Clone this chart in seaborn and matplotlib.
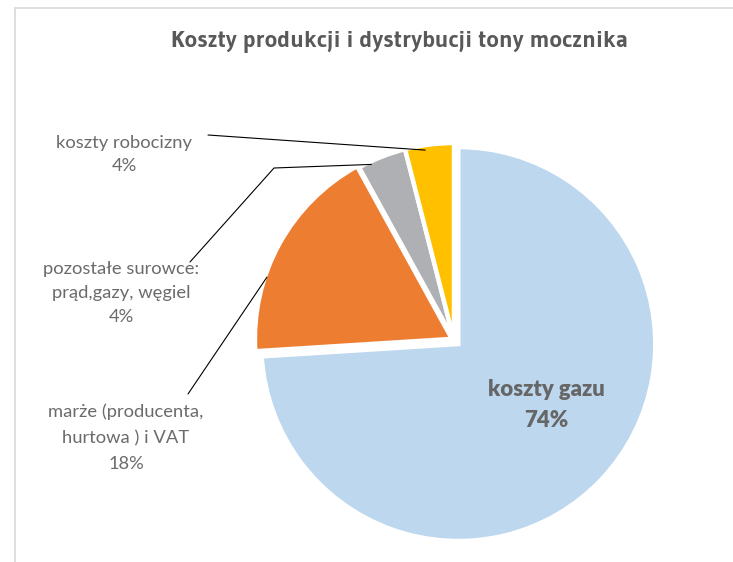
import numpy as np
import matplotlib
matplotlib.use("Agg")
import matplotlib.pyplot as plt
from matplotlib import font_manager as fm
from matplotlib.font_manager import FontProperties
from matplotlib.ft2font import FT2Font
import seaborn as sns

# ---- data ----
categories = ["koszty gazu", "marże (producenta,\nhurtowa ) i VAT",
              "pozostałe surowce:\nprąd,gazy, węgiel", "koszty robocizny"]
values = [74, 18, 4, 4]
pct_labels = ["74%", "18%", "4%", "4%"]
colors = ["#BDD7EE", "#ED7D31", "#AFB0B3", "#FFC000"]
title = "Koszty produkcji i dystrybucji tony mocznika"

sns.set_theme(style="white")
plt.rcParams["font.family"] = ["Lato", "DejaVu Sans"]

W, H = 733, 562
fig = plt.figure(figsize=(W / 100, H / 100), dpi=100)
ax = fig.add_axes([0, 0, 1, 1])
renderer = fig.canvas.get_renderer()

# pixel geometry of pie
cx, cy, R = 454, 340, 197

def px(x, y):
    return (x - cx) / R, (cy - y) / R

explode = [0.03, 0.012, 0.0, 0.0]
wedges, _ = ax.pie(values, colors=colors, startangle=90, counterclock=False,
                   explode=explode, radius=1.0,
                   wedgeprops=dict(edgecolor="white", linewidth=3.2, joinstyle="miter"))

ax.set_aspect("auto")
ax.set_xlim((0 - cx) / R, (W - cx) / R)
ax.set_ylim((cy - H) / R, (cy - 0) / R)
ax.axis("off")

# chart-area border (top & left)
fig.add_artist(plt.Line2D([15 / W, 1], [1 - 8 / H, 1 - 8 / H], color="#D9D9D9", lw=1.2,
                          transform=fig.transFigure))
fig.add_artist(plt.Line2D([15 / W, 15 / W], [0, 1 - 8 / H], color="#D9D9D9", lw=1.2,
                          transform=fig.transFigure))

# ---- choose a bold sans font whose proportions match the title (width 458px, cap 16.7px) ----
TITLE_W, TITLE_CAP = 458.0, 16.7

def is_bold(f):
    w = f.weight
    if isinstance(w, str):
        return w.lower() == "bold"
    return int(w) == 700

best = None
for f in fm.fontManager.ttflist:
    if not is_bold(f) or f.style != "normal":
        continue
    nm = f.name.lower()
    if "mono" in nm or "serif" in nm.replace("sans", "") or "cjk" in nm:
        continue
    try:
        ft = FT2Font(f.fname)
        ft.set_size(100, 72)
        ft.set_text(title, 0.0)
        w = ft.get_width_height()[0] / 64.0
        g = ft.load_char(ord("K"))
        cap = g.height / 64.0
    except Exception:
        continue
    if w <= 0 or cap <= 0:
        continue
    scale = TITLE_W / w
    err = abs(cap * scale - TITLE_CAP)
    if best is None or err < best[0]:
        best = (err, f.fname, 100 * scale * 72 / 100)

if best:
    tprops = FontProperties(fname=best[1], size=best[2])
else:
    tprops = FontProperties(family=["Liberation Sans", "DejaVu Sans"], weight="bold", size=15)

def fit(textobj, target_w):
    w = textobj.get_window_extent(renderer).width
    textobj.set_fontsize(textobj.get_fontsize() * target_w / w)

# title (baseline at y=47 px)
t = fig.text(399 / W, 1 - 47 / H, title, ha="center", va="baseline",
             color="#595959", fontproperties=tprops)
fit(t, TITLE_W)

def wedge_point(i, frac, r):
    w = wedges[i]
    ang = np.deg2rad(w.theta1 + frac * (w.theta2 - w.theta1))
    c = w.center
    return c[0] + r * np.cos(ang), c[1] + r * np.sin(ang)

lab_color = "#6B6B6B"
# labels for small slices
t3 = ax.text(*px(124.5, 154.5), categories[3] + "\n" + pct_labels[3], ha="center", va="center",
             fontsize=13, color=lab_color, linespacing=1.6)
fit(t3, 135)
fs = t3.get_fontsize()
ax.text(*px(121, 293), categories[2] + "\n" + pct_labels[2], ha="center", va="center",
        fontsize=fs, color=lab_color, linespacing=1.6)
ax.text(*px(126, 438), categories[1] + "\n" + pct_labels[1], ha="center", va="center",
        fontsize=fs, color=lab_color, linespacing=1.75)
t0 = ax.text(*px(546.5, 405), categories[0] + "\n" + pct_labels[0], ha="center", va="center",
             fontsize=16, color="#666666", fontweight="heavy", linespacing=1.6)
fit(t0, 117)

# leader lines
p = wedge_point(3, 0.6, 0.975)
a = px(208, 135)
ax.plot([a[0], p[0]], [a[1], p[1]], color="black", lw=0.8)
p = wedge_point(2, 0.75, 0.985)
a, b = px(190, 262), px(274, 168)
ax.plot([a[0], b[0], p[0]], [a[1], b[1], p[1]], color="black", lw=0.8)
p = wedge_point(1, 0.66, 0.99)
a = px(188, 394)
ax.plot([a[0], p[0]], [a[1], p[1]], color="black", lw=0.8)

fig.savefig("out.png", dpi=100, facecolor="white")
